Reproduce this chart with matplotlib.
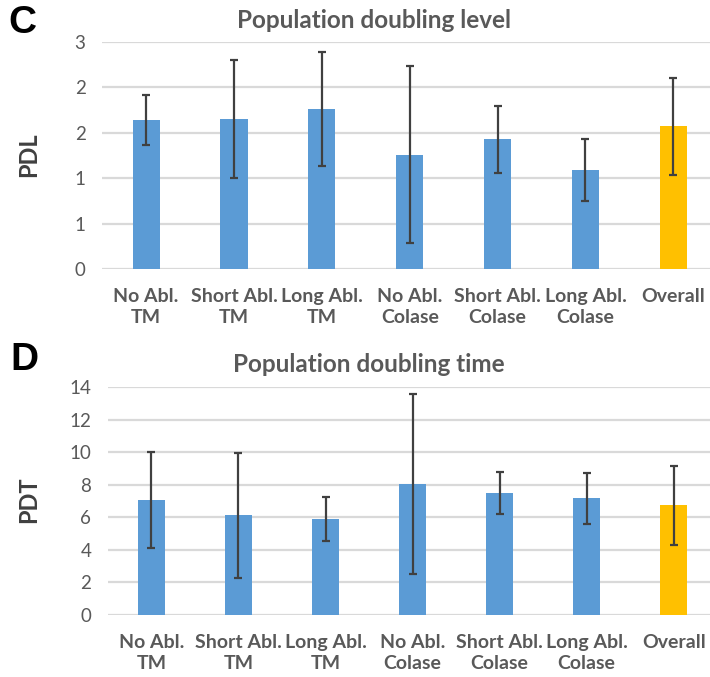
import matplotlib
matplotlib.use('Agg')
import matplotlib.pyplot as plt
import numpy as np

plt.rcParams['font.family'] = ['Lato', 'DejaVu Sans']

categories = ['No Abl.\nTM', 'Short Abl.\nTM', 'Long Abl.\nTM', 'No Abl.\nColase',
              'Short Abl.\nColase', 'Long Abl.\nColase', 'Overall']

# Population doubling level (mean, sd)
pdl_mean = [1.64, 1.65, 1.76, 1.26, 1.43, 1.09, 1.57]
pdl_err = [0.28, 0.65, 0.63, 0.97, 0.37, 0.34, 0.53]
pdl_ticks = [0, 0.5, 1.0, 1.5, 2.0, 2.5]
pdl_ticklabels = ['0', '1', '1', '2', '2', '3']

# Population doubling time (mean, sd)
pdt_mean = [7.06, 6.12, 5.89, 8.06, 7.51, 7.16, 6.73]
pdt_err = [2.93, 3.82, 1.37, 5.53, 1.28, 1.56, 2.42]
pdt_ticks = [0, 2, 4, 6, 8, 10, 12, 14]
pdt_ticklabels = ['0', '2', '4', '6', '8', '10', '12', '14']

colors = ['#5B9BD5'] * 6 + ['#FFC000']
grey = '#595959'

fig = plt.figure(figsize=(7.10, 6.77), dpi=100)


def panel(rect, means, errs, ticks, ticklabels, ylabel):
    ax = fig.add_axes(rect)
    x = np.arange(len(categories))
    ax.bar(x, means, width=0.31, color=colors, zorder=2)
    ax.errorbar(x, means, yerr=errs, fmt='none', ecolor='#404040',
                elinewidth=1.6, capsize=3, capthick=1.6, zorder=3)
    ax.set_xlim(-0.5, 6.45)
    ax.set_ylim(ticks[0], ticks[-1])
    ax.set_yticks(ticks)
    ax.set_yticklabels(ticklabels, color=grey, fontsize=13.5)
    ax.set_xticks(x)
    ax.set_xticklabels(categories, color=grey, fontsize=14, fontweight='bold',
                       linespacing=1.25)
    ax.tick_params(length=0, axis='y', pad=12)
    ax.tick_params(length=0, axis='x', pad=14)
    ax.grid(axis='y', color='#D9D9D9', lw=1.6, zorder=0)
    for s in ax.spines.values():
        s.set_visible(False)
    return ax


panel([0.144, 0.6027, 0.86, 0.3353], pdl_mean, pdl_err, pdl_ticks, pdl_ticklabels, 'PDL')
panel([0.152, 0.0916, 0.852, 0.3367], pdt_mean, pdt_err, pdt_ticks, pdt_ticklabels, 'PDT')

fig.text(0.527, 0.969, 'Population doubling level', ha='center', va='center',
         fontsize=17.5, fontweight='bold', color=grey)
fig.text(0.52, 0.462, 'Population doubling time', ha='center', va='center',
         fontsize=17.5, fontweight='bold', color=grey)
fig.text(0.040, 0.771, 'PDL', rotation=90, ha='center', va='center',
         fontsize=17, fontweight='bold', color='#404040')
fig.text(0.040, 0.262, 'PDT', rotation=90, ha='center', va='center',
         fontsize=17, fontweight='bold', color='#404040')
fig.text(0.031, 0.966, 'C', ha='center', va='center', fontsize=28,
         fontweight='bold', family='Liberation Sans', color='black')
fig.text(0.035, 0.468, 'D', ha='center', va='center', fontsize=28,
         fontweight='bold', family='Liberation Sans', color='black')

fig.savefig('out.png', dpi=100)
